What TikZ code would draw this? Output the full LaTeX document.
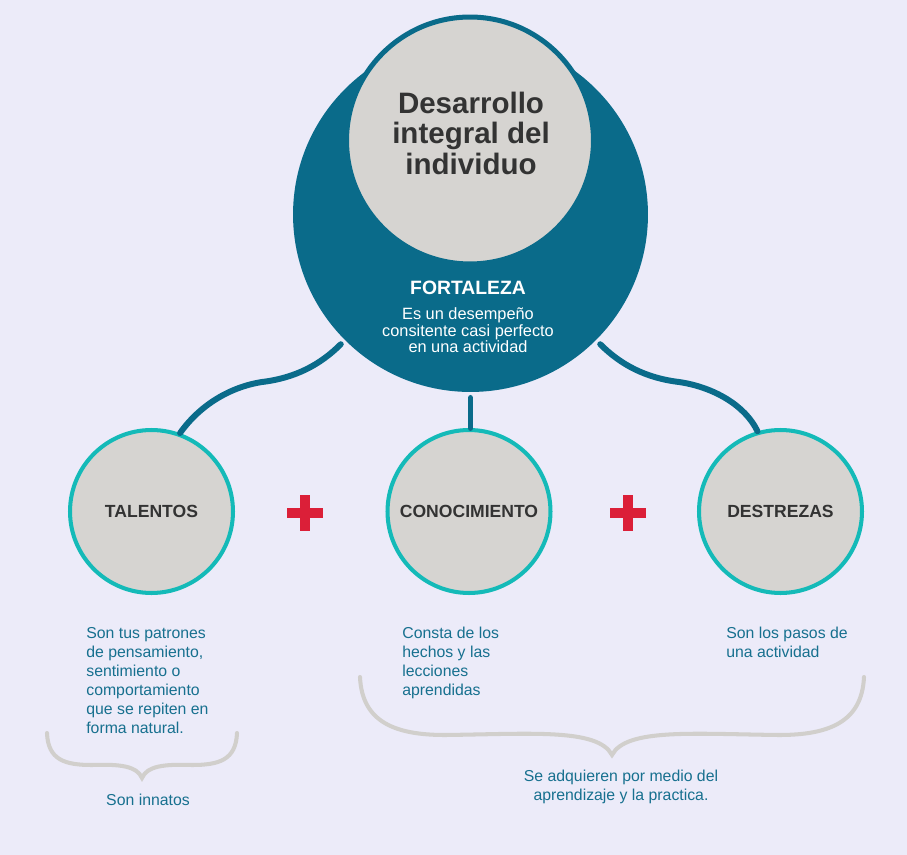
\documentclass[tikz,border=0pt]{standalone}
\usepackage{fontspec}
\setmainfont{Liberation Sans}
\usepackage{tikz}
\definecolor{mteal}{rgb}{0.04, 0.42, 0.54}
\definecolor{mcyan}{rgb}{0.08, 0.73, 0.72}
\definecolor{mgray}{rgb}{0.84, 0.83, 0.82}
\definecolor{mred}{rgb}{0.86, 0.12, 0.22}
\definecolor{mtext}{rgb}{0.09, 0.44, 0.56}
\definecolor{mdark}{rgb}{0.2, 0.2, 0.2}
\definecolor{mback}{rgb}{0.925, 0.922, 0.976}
\definecolor{mbrace}{rgb}{0.82, 0.81, 0.80}
\tikzset{link/.style = {line width=3.4pt, mteal, line cap=round},
         skill/.style = {circle, draw=mcyan, line width=2.3pt, fill=mgray,
                         minimum size=3.26cm, inner sep=0pt, text=mdark,
                         font=\bfseries\fontsize{10}{12}\selectfont},
         note/.style = {inner sep=0pt, text=mtext, font=\fontsize{9}{10.8}\selectfont},
         bracestroke/.style = {line width=2.3pt, mbrace, line cap=round},
         plussign/.style = {line width=5.7pt, mred}}

\begin{document}
\begin{tikzpicture}[x=0.02cm, y=-0.02cm]
    \useasboundingbox (0, 0) rectangle (907, 855);
    \fill [mback] (0, 0) rectangle (907, 855);

    \node [circle, fill=mteal, minimum size=7.1cm, inner sep=0pt, outer sep=3.4pt] (fort) at (470.5, 214.5) {};
    \node [circle, fill=mgray, draw=mteal, line width=2.85pt, minimum size=4.94cm, inner sep=0pt] (dev) at (470, 140.5) {};
    \node [anchor=north, inner sep=0pt, align=center, text=mdark, font=\bfseries\fontsize{16.8}{17.2}\selectfont] (devtext) at (471, 92) {Desarrollo\\integral del\\individuo};
    \node [anchor=base, inner sep=0pt, text=white, font=\bfseries\fontsize{11}{13}\selectfont] (forttitle) at (468, 295) {FORTALEZA};
    \node [anchor=north, inner sep=0pt, align=center, text=white, font=\fontsize{9.3}{9.6}\selectfont] (forttext) at (468, 307) {Es un desempeño\\consitente casi perfecto\\en una actividad};

    \node [skill] (tal) at (151.5, 511.5) {TALENTOS};
    \node [skill] (con) at (469, 511.5) {CONOCIMIENTO};
    \node [skill] (des) at (780.5, 511.5) {DESTREZAS};

    \draw [link] (fort.-135) .. controls (320, 365) and (295, 378) .. (262, 382) .. controls (230, 387) and (200, 405) .. (tal.70);
    \draw [link] (fort.south) -- (fort.south |- con.north);
    \draw [link] (fort.-45) .. controls (621, 365) and (646, 378) .. (679, 382) .. controls (713, 387) and (745, 405) .. (des.106);

    \foreach \px in {305, 628}
      \draw [plussign] (\px - 18, 513) -- (\px + 18, 513) (\px, 495) -- (\px, 531);

    \node [note, anchor=north west, align=left] (taltext) at (86, 627) {Son tus patrones\\de pensamiento,\\sentimiento o\\comportamiento\\que se repiten en\\forma natural.};
    \node [note, anchor=north west, align=left] (context) at (402, 627) {Consta de los\\hechos y las\\lecciones\\aprendidas};
    \node [note, anchor=north west, align=left] (destext) at (726, 626.5) {Son los pasos de\\una actividad};

    % llaves
    \draw [bracestroke] (47, 733) .. controls (48, 760) and (65, 765) .. (92, 765)
                        .. controls (120, 764) and (137, 766) .. (142, 778)
                        .. controls (147, 766) and (164, 764) .. (192, 765)
                        .. controls (219, 765) and (236, 760) .. (237, 733);
    \draw [bracestroke] (360, 677) .. controls (362, 722) and (395, 735) .. (445, 735)
                        .. controls (530, 734) and (598, 728) .. (612, 755)
                        .. controls (626, 728) and (694, 734) .. (779, 735)
                        .. controls (829, 735) and (862, 722) .. (864, 677);

    \node [note, anchor=base] (innatos) at (148, 805) {Son innatos};
    \node [note, anchor=north, align=center] (adquieren) at (621, 769.5) {Se adquieren por medio del\\aprendizaje y la practica.};
  \end{tikzpicture}
\end{document}
